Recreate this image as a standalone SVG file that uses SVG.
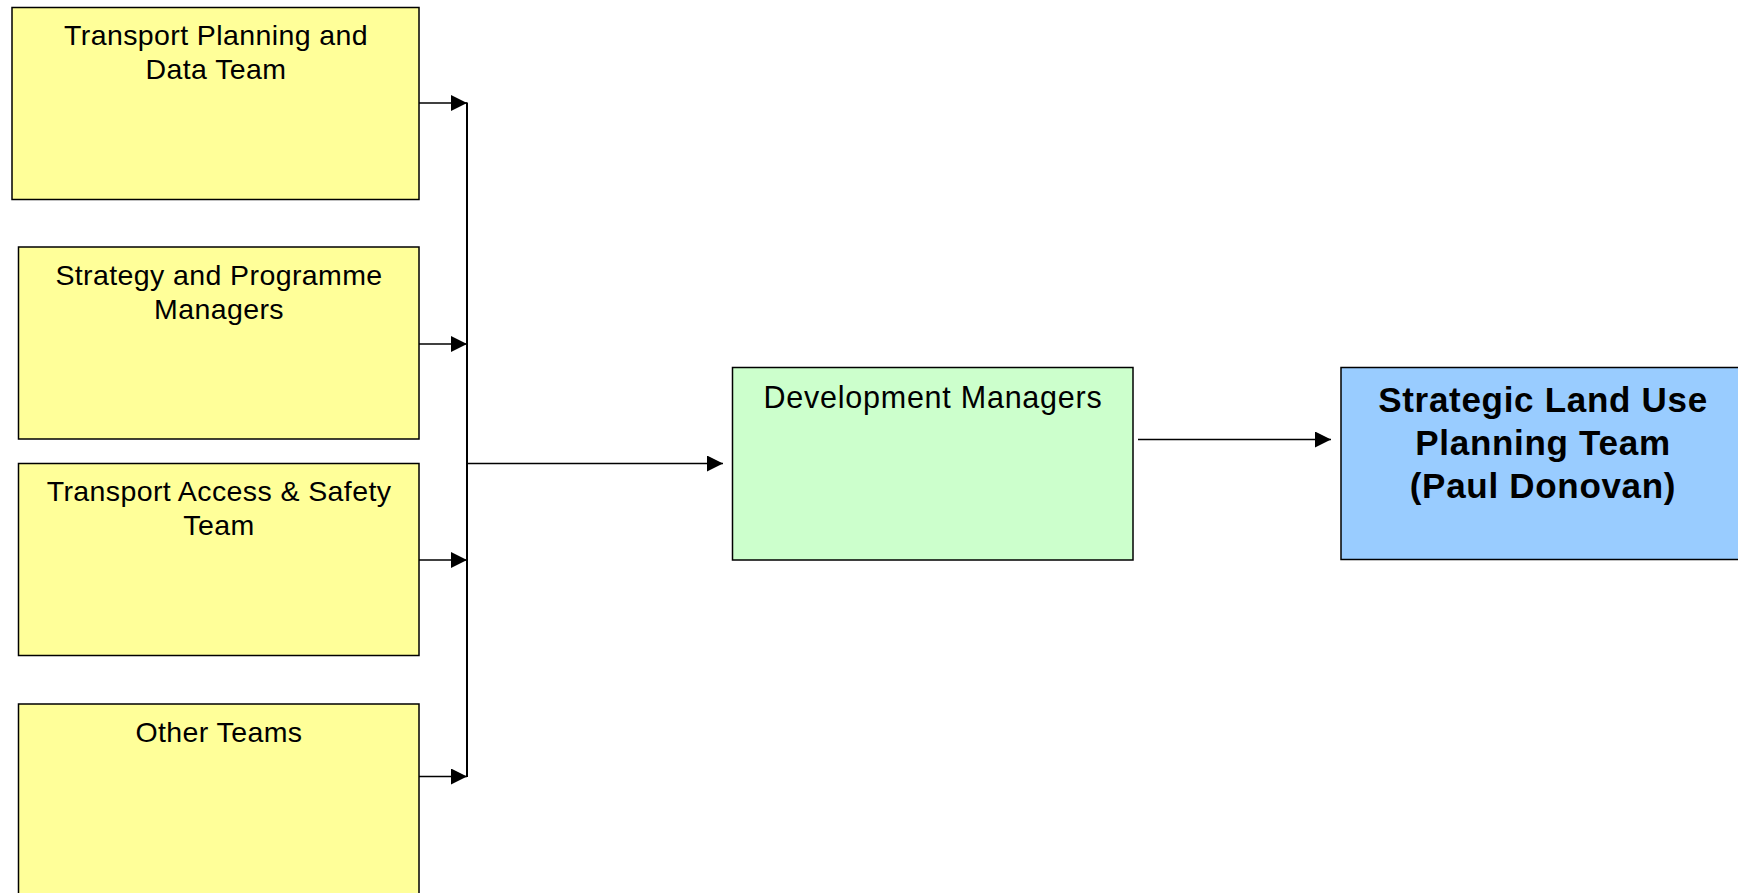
<svg xmlns="http://www.w3.org/2000/svg" width="1738" height="893" viewBox="0 0 1738 893">
<style>
.box{stroke:#000;stroke-width:1.5}
.y{fill:#FFFF99}.g{fill:#CCFFCC}.b{fill:#99CCFF}
.t{font-family:"Liberation Sans",Arial,sans-serif;fill:#000;text-anchor:middle}
.ty{font-size:28.5px;letter-spacing:0.4px}
.tg{font-size:30.5px;letter-spacing:0.75px}
.tb{font-size:35px;font-weight:bold;letter-spacing:0.7px}
.c{stroke:#000;fill:none;stroke-width:1.5}
</style>
<defs>
<marker id="ah" viewBox="0 0 16 16" refX="16" refY="8" markerWidth="16" markerHeight="16" markerUnits="userSpaceOnUse" orient="auto">
<path d="M0,0 L16,8 L0,16 Z" fill="#000"/>
</marker>
</defs>
<rect width="1738" height="893" fill="#fff"/>
<g id="tpdt">
<rect class="box y" x="12" y="7.5" width="407" height="192"/>
<text class="t ty" x="216" y="45">Transport Planning and</text>
<text class="t ty" x="216" y="79">Data Team</text>
</g>
<g id="spm">
<rect class="box y" x="18.5" y="247" width="400.5" height="192"/>
<text class="t ty" x="219" y="284.5">Strategy and Programme</text>
<text class="t ty" x="219" y="318.5">Managers</text>
</g>
<g id="tast">
<rect class="box y" x="18.5" y="463.5" width="400.5" height="192"/>
<text class="t ty" x="219" y="501">Transport Access &amp; Safety</text>
<text class="t ty" x="219" y="535">Team</text>
</g>
<g id="other">
<rect class="box y" x="18.5" y="704" width="400.5" height="200"/>
<text class="t ty" x="219" y="741.5">Other Teams</text>
</g>
<g id="dev">
<rect class="box g" x="732.5" y="367.5" width="400.5" height="192.5"/>
<text class="t tg" x="933" y="408">Development Managers</text>
</g>
<g id="slupt">
<rect class="box b" x="1341" y="367.5" width="420" height="192"/>
<text class="t tb" x="1543" y="412">Strategic Land Use</text>
<text class="t tb" x="1543" y="455">Planning Team</text>
<text class="t tb" x="1543" y="498">(Paul Donovan)</text>
</g>
<g id="connectors">
<line x1="467" y1="102.5" x2="467" y2="777" stroke="#000" stroke-width="2"/>
<line class="c" x1="419" y1="103" x2="467" y2="103" marker-end="url(#ah)"/>
<line class="c" x1="419" y1="344" x2="467" y2="344" marker-end="url(#ah)"/>
<line class="c" x1="419" y1="560" x2="467" y2="560" marker-end="url(#ah)"/>
<line class="c" x1="419" y1="776.5" x2="467" y2="776.5" marker-end="url(#ah)"/>
<line class="c" x1="467" y1="463.5" x2="723" y2="463.5" marker-end="url(#ah)"/>
<line class="c" x1="1138" y1="439.5" x2="1331" y2="439.5" marker-end="url(#ah)"/>
</g>
</svg>
